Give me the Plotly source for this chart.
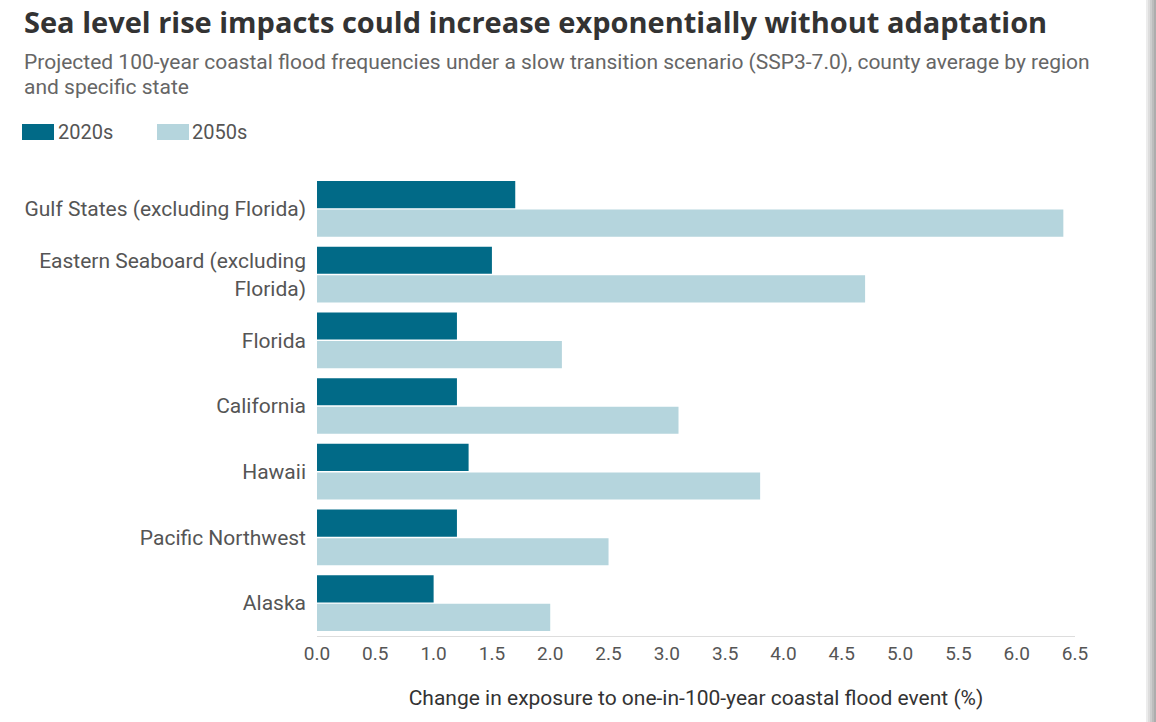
import plotly.graph_objects as go

regions = [
    "Gulf States (excluding Florida)",
    "Eastern Seaboard (excluding<br>Florida)",
    "Florida",
    "California",
    "Hawaii",
    "Pacific Northwest",
    "Alaska",
]
v2020s = [1.7, 1.5, 1.2, 1.2, 1.3, 1.2, 1.0]
v2050s = [6.4, 4.7, 2.1, 3.1, 3.8, 2.5, 2.0]
tick_vals = [0.0, 0.5, 1.0, 1.5, 2.0, 2.5, 3.0, 3.5, 4.0, 4.5, 5.0, 5.5, 6.0, 6.5]
tick_text = [f"{t:.1f}" for t in tick_vals]

C_DARK = "#016a87"
C_LIGHT = "#b5d5dd"
FONT = "Roboto"
TFONT = "Open Sans"

W, H = 1156, 722
L = 317
R = W - 1075
T = 176
B = H - 636
pw = W - L - R
ph = H - T - B

def px(x):
    return (x - L) / pw

def py(y):
    return 1 - (y - T) / ph

fig = go.Figure()
fig.add_trace(go.Bar(y=regions, x=v2020s, orientation="h", name="2020s",
                     marker=dict(color=C_DARK, line=dict(width=0))))
fig.add_trace(go.Bar(y=regions, x=v2050s, orientation="h", name="2050s",
                     marker=dict(color=C_LIGHT, line=dict(width=0))))

fig.update_layout(
    width=W, height=H,
    margin=dict(l=L, r=R, t=T, b=B, autoexpand=False),
    paper_bgcolor="white", plot_bgcolor="white",
    barmode="group", bargap=0.13, bargroupgap=0.05,
    showlegend=False,
    font=dict(family=FONT, color="#555555", size=16),
    xaxis=dict(range=[0, 6.5], tickvals=tick_vals, ticktext=tick_text,
               showgrid=False, zeroline=False, showline=True,
               linecolor="#dddddd", linewidth=1, ticks="",
               tickfont=dict(size=19, color="#555555"),
               title=dict(text="Change in exposure to one-in-100-year coastal flood event (%)",
                          font=dict(size=21, color="#333333"), standoff=26)),
    yaxis=dict(autorange="reversed", showgrid=False, zeroline=False,
               showline=False, ticks="", ticklabelstandoff=10,
               tickfont=dict(size=21, color="#555555")),
)

annotations = [
    dict(text="Sea level rise impacts could increase exponentially without adaptation",
         x=px(22), y=py(21), xref="paper", yref="paper", xanchor="left", yanchor="middle",
         showarrow=False, font=dict(size=29, color="#333333", family=TFONT, weight=700)),
    dict(text="Projected 100-year coastal flood frequencies under a slow transition scenario (SSP3-7.0), county average by region",
         x=px(22), y=py(62), xref="paper", yref="paper", xanchor="left", yanchor="middle",
         align="left", showarrow=False, font=dict(size=21, color="#666666", family=FONT)),
    dict(text="and specific state",
         x=px(22), y=py(87), xref="paper", yref="paper", xanchor="left", yanchor="middle",
         align="left", showarrow=False, font=dict(size=21, color="#666666", family=FONT)),
    dict(text="2020s", x=px(56), y=py(132), xref="paper", yref="paper", xanchor="left",
         yanchor="middle", showarrow=False, font=dict(size=20, color="#555555", family=FONT)),
    dict(text="2050s", x=px(190), y=py(132), xref="paper", yref="paper", xanchor="left",
         yanchor="middle", showarrow=False, font=dict(size=20, color="#555555", family=FONT)),
]
fig.update_layout(annotations=annotations)

shapes = [
    dict(type="rect", xref="paper", yref="paper", x0=px(22), x1=px(54), y0=py(124), y1=py(140),
         fillcolor=C_DARK, line=dict(width=0)),
    dict(type="rect", xref="paper", yref="paper", x0=px(157), x1=px(189), y0=py(124), y1=py(140),
         fillcolor=C_LIGHT, line=dict(width=0)),
]
# card shadow strip at the right edge
shadow_cols = ["#ececec", "#dddddd", "#cdcdcd", "#bdbdbd", "#adadad"]
for i, c in enumerate(shadow_cols):
    shapes.append(dict(type="rect", xref="paper", yref="paper",
                       x0=px(1146 + 2 * i), x1=px(1148 + 2 * i), y0=py(0), y1=py(722),
                       fillcolor=c, line=dict(width=0), layer="above"))
fig.update_layout(shapes=shapes)

fig.write_html("out.html", config={"displayModeBar": False},
               post_script="document.body.style.margin='0';document.body.style.overflow='hidden';")
